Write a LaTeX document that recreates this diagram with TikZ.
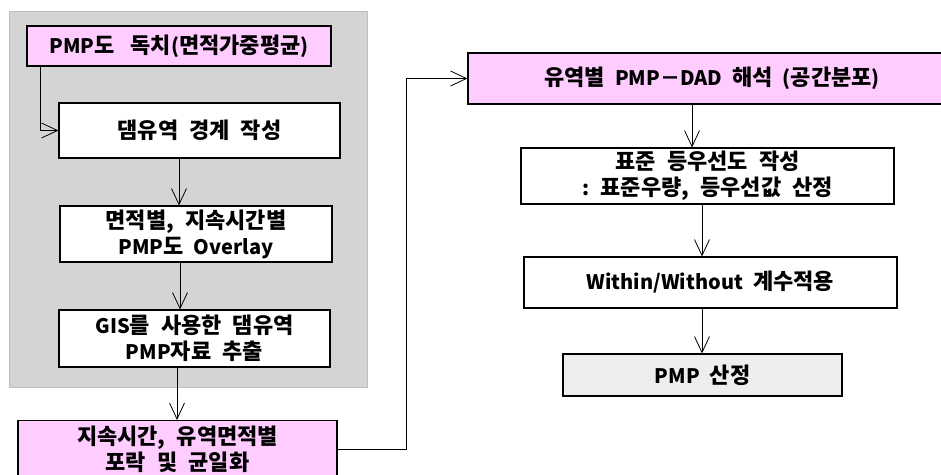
\documentclass[tikz,border=0pt]{standalone}
\usepackage{fontspec}
\setmainfont{Noto Sans CJK KR}[WordSpace=2.2]
\newfontfamily\kr{Noto Sans CJK KR}[Scale=1.1,WordSpace=2.2]
\newcommand\K[1]{{\kr #1}}
\usetikzlibrary{arrows.meta,calc}
\definecolor{pinkfill}{HTML}{FFCCFF}
\definecolor{panelgray}{HTML}{D4D4D4}
\definecolor{panelborder}{HTML}{BFBFBF}
\definecolor{lightfill}{HTML}{EEEEEE}
\begin{document}
\begin{tikzpicture}[x=1pt,y=-1pt,
  box/.style={draw=black,line width=1.1pt,fill=white,inner sep=0pt,align=center,
    font=\bfseries\fontsize{20}{26}\selectfont},
  pinkbox/.style={box,fill=pinkfill},
  arr/.style={draw=black,line width=0.8pt,-{Straight Barb[length=16pt,width=15pt,line width=0.8pt]}}]
\clip (0,0) rectangle (941,474);
\fill[white] (0,0) rectangle (941,474);
\node[draw=panelborder, fill=panelgray, line width=1pt, minimum width=358pt, minimum height=376pt, inner sep=0pt] (panel) at (188,199) {};

\node[pinkbox, minimum width=304pt, minimum height=40pt] (b1) at (179,46) {PMP\K{도\hspace{16pt}독치}(\K{면적가중평균})};
\node[box, minimum width=281pt, minimum height=55pt] (b2) at (199.5,130.5) {\K{댐유역 경계 작성}};
\node[box, minimum width=272pt, minimum height=56pt] (b3) at (196,234) {\K{면적별, 지속시간별}\\PMP\K{도} Overlay};
\node[box, minimum width=271pt, minimum height=57pt] (b4) at (194.5,338.5) {GIS\K{를 사용한 댐유역}\\PMP\K{자료 추출}};
\node[pinkbox, minimum width=319pt, minimum height=57pt] (b5) at (177.5,449) {\K{지속시간, 유역면적별}\\\K{포락 및 균일화}};
\node[pinkbox, minimum width=488pt, minimum height=51pt] (b6) at (712,78.5) {\K{유역별} PMP－DAD \K{해석} (\K{공간분포})};
\node[box, minimum width=373pt, minimum height=56pt] (b7) at (707.5,176) {\K{표준 등우선도 작성}\\: \K{표준우량, 등우선값 산정}};
\node[box, minimum width=373pt, minimum height=51pt] (b8) at (710.5,282.5) {Within/Without \K{계수적용}};
\node[box, fill=lightfill, minimum width=279pt, minimum height=42pt] (b9) at (702.5,375) {PMP \K{산정}};

\coordinate (cx1) at (179,0);
\coordinate (cx2) at (180,0);
\coordinate (cx3) at (177,0);
\coordinate (cx4) at (692,0);
\coordinate (cx5) at (702,0);

\draw[arr] ($(b1.south west)+(14,0)$) |- (b2.west);
\draw[arr] (b2.south -| cx1) -- (b3.north -| cx1);
\draw[arr] (b3.south -| cx2) -- (b4.north -| cx2);
\draw[arr] (b4.south -| cx3) -- (b5.north -| cx3);
\draw[arr] (b5.east) -- ++(69,0) |- (b6.west);
\draw[arr] (b6.south -| cx4) -- (b7.north -| cx4);
\draw[arr] (b7.south -| cx5) -- (b8.north -| cx5);
\draw[arr] (b8.south -| cx5) -- (b9.north -| cx5);
\end{tikzpicture}
\end{document}
